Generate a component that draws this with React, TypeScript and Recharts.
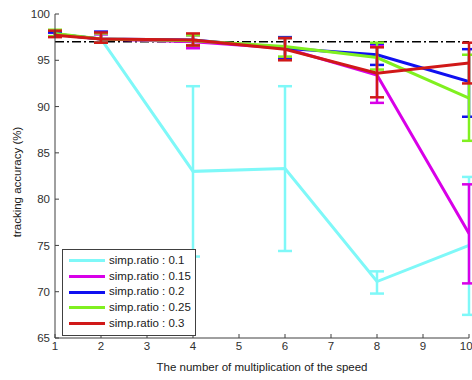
import {
  LineChart, Line, XAxis, YAxis, ErrorBar, ReferenceLine, Legend, Label,
} from 'recharts';

const speeds = [1, 2, 4, 6, 8, 10];
const ratioNames = ['simp.ratio : 0.1', 'simp.ratio : 0.15', 'simp.ratio : 0.2', 'simp.ratio : 0.25', 'simp.ratio : 0.3'];
const ratioColors = ['#7ff8f8', '#d800e8', '#1010f0', '#80f020', '#d01818'];

// mean accuracy per ratio
const acc01 = [97.8, 97.3, 83.0, 83.3, 71.1, 75.0];
const acc015 = [97.8, 97.3, 97.0, 96.3, 93.4, 76.3];
const acc02 = [97.8, 97.3, 97.2, 96.3, 95.6, 92.7];
const acc025 = [97.9, 97.3, 97.1, 96.5, 95.3, 90.9];
const acc03 = [97.7, 97.3, 97.2, 96.2, 93.6, 94.7];

// error bar bounds [low, high]
const err01 = [[97.6, 98.0], [96.9, 97.8], [73.8, 92.2], [74.4, 92.2], [69.8, 72.2], [67.5, 82.4]];
const err015 = [[97.6, 98.0], [96.9, 97.8], [96.3, 97.7], [95.2, 97.4], [90.4, 96.6], [70.9, 81.6]];
const err02 = [[97.6, 98.0], [96.9, 98.1], [96.6, 97.8], [95.1, 97.5], [94.5, 96.8], [88.9, 96.2]];
const err025 = [[97.6, 98.3], [96.9, 97.9], [96.6, 97.7], [95.4, 97.4], [94.0, 96.9], [86.3, 95.6]];
const err03 = [[97.5, 98.2], [96.9, 98.0], [96.6, 97.9], [95.0, 97.4], [91.0, 96.4], [92.5, 96.9]];

const baseline = 97;
const xTicks = [1, 2, 3, 4, 5, 6, 7, 8, 9, 10];
const yTicks = [65, 70, 75, 80, 85, 90, 95, 100];

const means = [acc01, acc015, acc02, acc025, acc03];
const errs = [err01, err015, err02, err025, err03];

const data = speeds.map((s, i) => {
  const row: any = { speed: s };
  means.forEach((m, k) => {
    row[`v${k}`] = m[i];
    row[`e${k}`] = [m[i] - errs[k][i][0], errs[k][i][1] - m[i]];
  });
  return row;
});

const FONT = '"Liberation Sans", Arial, sans-serif';
const tickStyle = { fontSize: 11.5, fill: '#303030', fontFamily: FONT };

function LegendBox({ payload }: any) {
  return (
    <div style={{
      background: '#fff', border: '1px solid #404040', padding: '3px 4px 3px 6px',
      fontFamily: FONT, fontSize: 11.5, color: '#202020', lineHeight: '15.7px',
    }}>
      {(payload || []).map((p: any) => (
        <div key={p.value} style={{ display: 'flex', alignItems: 'center' }}>
          <span style={{ display: 'inline-block', width: 36, height: 3, background: p.color, marginRight: 4 }} />
          <span style={{ whiteSpace: 'nowrap' }}>{p.value}</span>
        </div>
      ))}
    </div>
  );
}

export default function App() {
  return (
    <div style={{ position: 'absolute', left: 0, top: 0, width: 472, height: 380, background: '#fff' }}>
      <LineChart width={472} height={380} data={data} margin={{ top: 14, right: 3, bottom: 0, left: 0 }}>
        <ReferenceLine y={baseline} stroke="#000" strokeWidth={1.5} strokeDasharray="9 3 2 3" />
        <XAxis
          dataKey="speed" type="number" domain={[1, 10]} ticks={xTicks} allowDataOverflow
          height={42} tick={tickStyle} tickSize={-4} tickMargin={8}
          axisLine={{ stroke: '#404040' }} tickLine={{ stroke: '#404040' }}
        >
          <Label content={() => (
            <text x={262} y={371} textAnchor="middle" fontSize={11.5} fontFamily={FONT} fill="#202020">
              The number of multiplication of the speed
            </text>
          )} />
        </XAxis>
        <YAxis
          type="number" domain={[65, 100]} ticks={yTicks} allowDataOverflow
          width={55} tick={tickStyle} tickSize={-4} tickMargin={9}
          axisLine={{ stroke: '#404040' }} tickLine={{ stroke: '#404040' }}
        >
          <Label content={() => (
            <text x={17} y={182} transform="rotate(-90 17 182)" textAnchor="middle" dominantBaseline="central"
              fontSize={11.5} fontFamily={FONT} fill="#202020">
              tracking accuracy (%)
            </text>
          )} />
        </YAxis>
        {ratioNames.map((name, k) => (
          <Line
            key={name} dataKey={`v${k}`} name={name} stroke={ratioColors[k]} strokeWidth={3}
            dot={false} isAnimationActive={false} type="linear"
          >
            <ErrorBar dataKey={`e${k}`} direction="y" width={7} strokeWidth={2.5} stroke={ratioColors[k]} isAnimationActive={false} />
          </Line>
        ))}
        <Legend
          layout="vertical" align="center" verticalAlign="middle"
          content={<LegendBox />}
          wrapperStyle={{ left: 62, top: 249, width: 'auto', height: 'auto' }}
        />
      </LineChart>
    </div>
  );
}
